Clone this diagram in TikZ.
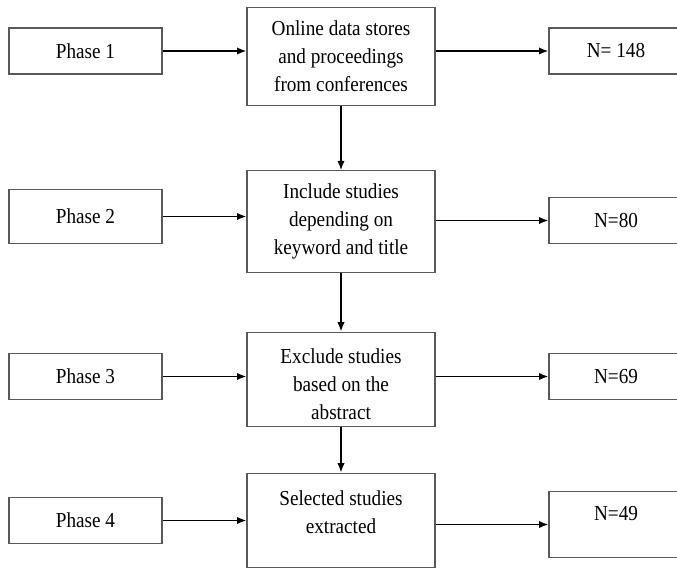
\documentclass[tikz,border=0pt]{standalone}
\usepackage{fontspec}
\setmainfont{Liberation Serif}[FakeStretch=0.9]
\usepackage{tikz}
\usetikzlibrary{arrows.meta,positioning}

\begin{document}
\begin{tikzpicture}[x=0.75pt,y=-0.75pt,
	>={Latex[length=7pt,width=5.5pt]},
	font=\fontsize{16}{21}\selectfont,
	box/.style={draw=black!65,line width=0.9pt,align=center,inner sep=2pt},
	phase/.style={box,minimum width=114.75pt},
	stage/.style={box,minimum width=141pt},
	count/.style={box,minimum width=100.5pt},
	flow/.style={->,line width=1.2pt}]
	\useasboundingbox (0,0) rectangle (677,570);
	\clip (0,0) rectangle (677,570);
	% left column
	\node[phase,minimum height=34.5pt] (p1) at (85.5,51) {Phase 1};
	\node[phase,minimum height=41pt] (p2) at (85.5,216.5) {Phase 2};
	\node[phase,minimum height=35pt] (p3) at (85.5,376.5) {Phase 3};
	\node[phase,minimum height=34pt] (p4) at (85.5,520.5) {Phase 4};
	% middle column
	\node[stage,minimum height=74pt] (c1) at (341,56.5) {Online data stores\\and proceedings\\from conferences};
	\node[stage,minimum height=76pt] (c2) at (341,221.5) {Include studies\\depending on\\keyword and title};
	\node[stage,minimum height=71pt,text height=60pt] (c3) at (341,379.5) {Exclude studies\\based on the\\abstract};
	\node[stage,minimum height=71pt,text depth=12pt] (c4) at (341,520.5) {Selected studies\\extracted};
	% right column
	\node[count,minimum height=34.5pt] (n1) at (616,51) {N= 148};
	\node[count,minimum height=35pt] (n2) at (616,220.5) {N=80};
	\node[count,minimum height=35pt] (n3) at (616,376.5) {N=69};
	\node[count,minimum height=49pt,text depth=17pt] (n4) at (616,524.5) {N=49};
	% connectors
	\foreach \i in {1,...,4} {
		\draw[flow] (p\i.east) -- (p\i.east -| c\i.west);
		\draw[flow] (c\i.east |- n\i.west) -- (n\i.west);
	}
	\foreach \i/\j in {1/2,2/3,3/4}
		\draw[flow] (c\i) -- (c\j);
\end{tikzpicture}
\end{document}
